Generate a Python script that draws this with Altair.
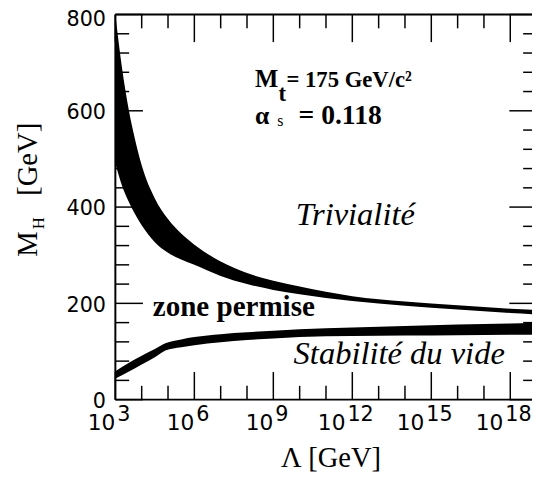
import altair as alt
import pandas as pd

# ---------------- data ----------------
# Triviality band (log10 Lambda, M_H lower / upper edge)
TRIV_LOG = [3, 3.25, 3.5, 3.75, 4, 4.5, 5, 5.5, 6, 7, 8, 9, 10, 12, 14, 16, 18, 19]
TRIV_HI = [800, 690, 605, 540, 487, 418, 375, 345, 322, 287, 263, 247, 235, 215, 204, 196, 189, 186]
TRIV_LO = [490, 445, 412, 385, 362, 327, 305, 291, 280, 257, 240, 228, 219, 205, 195, 187, 180, 177]

# Vacuum stability band
STAB_LOG = [3, 3.5, 4, 4.5, 4.9, 5.5, 6, 7, 8, 9, 10, 12, 14, 16, 18, 19]
STAB_LO = [44, 58, 73, 88, 102, 109, 113, 119, 124, 127, 130, 132, 133, 134, 135, 135]
STAB_HI = [59, 76, 91, 105, 117, 125, 130, 136, 140, 143, 146, 150, 153, 156, 158, 160]

Y_MAJOR = [0, 200, 400, 600, 800]
Y_MINOR = [40, 80, 120, 160, 240, 280, 320, 360, 440, 480, 520, 560, 640, 680, 720, 760]
X_MAJOR = [3, 6, 9, 12, 15, 18]
X_MINOR = [4, 5, 7, 8, 10, 11, 13, 14, 16, 17]
X_EXP = ["3", "6", "9", "12", "15", "18"]

# bold annotations: text, x (log10 Lambda), y (M_H), font size
ANN_TEXT = ["M", "t", "= 175 GeV/c²", "α", "= 0.118", "zone permise"]
ANN_X = [8.3, 9.2, 9.5, 8.3, 9.96, 4.42]
ANN_Y = [649, 621, 649, 573, 573, 174]
ANN_SIZE = [25, 23, 23, 26, 28, 29.5]

SUB_TEXT = ["s"]
SUB_X = [9.15]
SUB_Y = [568]
SUB_SIZE = [16]

ITAL_TEXT = ["Trivialité", "Stabilité du vide"]
ITAL_X = [9.85, 9.77]
ITAL_Y = [362, 74]
ITAL_SIZE = [33, 33]

SERIF = "Liberation Serif"
SANS = "DejaVu Sans"

W, H = 423, 391
XDOM = [3, 3 + W / 26.73]
YDOM = [0, 800]
MAJ, MIN = 28, 14

xs = alt.Scale(domain=XDOM, nice=False, zero=False)
ys = alt.Scale(domain=YDOM, nice=False, zero=False)

triv = pd.DataFrame({"x": TRIV_LOG, "lo": TRIV_LO, "hi": TRIV_HI})
stab = pd.DataFrame({"x": STAB_LOG, "lo": STAB_LO, "hi": STAB_HI})

band_t = alt.Chart(triv).mark_area(color="black", interpolate="monotone", clip=True).encode(
    x=alt.X("x:Q", scale=xs, axis=alt.Axis(labels=False, ticks=False, domain=False, grid=False, title=None)),
    y=alt.Y("lo:Q", scale=ys, axis=alt.Axis(
        values=Y_MAJOR, ticks=False, domain=False, grid=False, title=None,
        labelFont=SANS, labelFontSize=21, labelColor="black", labelPadding=10,
        labelOffset={"condition": {"test": "datum.value == 800", "value": 5}, "value": 2})),
    y2="hi:Q",
)
band_s = alt.Chart(stab).mark_area(color="black", interpolate="monotone", clip=True).encode(
    x=alt.X("x:Q", scale=xs), y=alt.Y("lo:Q", scale=ys), y2="hi:Q"
)

ymaj = pd.DataFrame({"v": Y_MAJOR})
ymin = pd.DataFrame({"v": Y_MINOR})
xmaj = pd.DataFrame({"v": X_MAJOR, "e": X_EXP})
xmin = pd.DataFrame({"v": X_MINOR})

def yticks(df, length):
    left = alt.Chart(df).mark_rule(color="black", strokeWidth=1.5).encode(
        y=alt.Y("v:Q", scale=ys), x=alt.value(0), x2=alt.value(length))
    right = alt.Chart(df).mark_rule(color="black", strokeWidth=1.5).encode(
        y=alt.Y("v:Q", scale=ys), x=alt.value(W - length + 5), x2=alt.value(W))
    return [left, right]

def xticks(df, length):
    top = alt.Chart(df).mark_rule(color="black", strokeWidth=1.5).encode(
        x=alt.X("v:Q", scale=xs), y=alt.value(0), y2=alt.value(length))
    bot = alt.Chart(df).mark_rule(color="black", strokeWidth=1.5).encode(
        x=alt.X("v:Q", scale=xs), y=alt.value(H - length), y2=alt.value(H))
    return [top, bot]

frame_df = pd.DataFrame({"a": [0]})
frame = [
    alt.Chart(frame_df).mark_rule(color="black", strokeWidth=2).encode(x=alt.value(0), y=alt.value(0), y2=alt.value(H)),
    alt.Chart(frame_df).mark_rule(color="black", strokeWidth=2).encode(x=alt.value(0), x2=alt.value(W), y=alt.value(0)),
    alt.Chart(frame_df).mark_rule(color="black", strokeWidth=2).encode(x=alt.value(0), x2=alt.value(W), y=alt.value(H)),
]

xlab_single = xmaj[xmaj["e"].str.len() == 1]
xlab_double = xmaj[xmaj["e"].str.len() == 2]
xlabels = []
for d, off in [(xlab_single, 0), (xlab_double, -7)]:
    xlabels.append(alt.Chart(d).mark_text(align="right", baseline="alphabetic", font=SANS,
                                          fontSize=22, color="black", dx=off).encode(
        x=alt.X("v:Q", scale=xs), y=alt.value(H + 31), text=alt.value("10")))
    xlabels.append(alt.Chart(d).mark_text(align="left", baseline="alphabetic", font=SANS,
                                          fontSize=21, color="black", dx=off + 2).encode(
        x=alt.X("v:Q", scale=xs), y=alt.value(H + 22), text="e:N"))

ann = pd.DataFrame({"t": ANN_TEXT, "x": ANN_X, "y": ANN_Y, "s": ANN_SIZE})
sub = pd.DataFrame({"t": SUB_TEXT, "x": SUB_X, "y": SUB_Y, "s": SUB_SIZE})
ital = pd.DataFrame({"t": ITAL_TEXT, "x": ITAL_X, "y": ITAL_Y, "s": ITAL_SIZE})

ann_l = alt.Chart(ann).mark_text(align="left", baseline="alphabetic", font=SERIF,
                                 fontWeight="bold", color="black").encode(
    x=alt.X("x:Q", scale=xs), y=alt.Y("y:Q", scale=ys), text="t:N", size=alt.Size("s:Q", scale=None))
sub_l = alt.Chart(sub).mark_text(align="left", baseline="alphabetic", font=SERIF,
                                 color="black").encode(
    x=alt.X("x:Q", scale=xs), y=alt.Y("y:Q", scale=ys), text="t:N", size=alt.Size("s:Q", scale=None))
ital_l = alt.Chart(ital).mark_text(align="left", baseline="alphabetic", font=SERIF,
                                   fontStyle="italic", color="black").encode(
    x=alt.X("x:Q", scale=xs), y=alt.Y("y:Q", scale=ys), text="t:N", size=alt.Size("s:Q", scale=None))

# axis titles
ttl = pd.DataFrame({"a": [0]})
ytitle = [
    alt.Chart(ttl).mark_text(align="left", baseline="alphabetic", angle=270, font=SERIF,
                             fontSize=29, color="black").encode(
        x=alt.value(-80), y=alt.value(246), text=alt.value("M")),
    alt.Chart(ttl).mark_text(align="left", baseline="alphabetic", angle=270, font=SERIF,
                             fontSize=17, color="black").encode(
        x=alt.value(-72), y=alt.value(218), text=alt.value("H")),
    alt.Chart(ttl).mark_text(align="left", baseline="alphabetic", angle=270, font=SERIF,
                             fontSize=29, color="black").encode(
        x=alt.value(-80), y=alt.value(184), text=alt.value("[GeV]")),
]
xtitle = alt.Chart(ttl).mark_text(align="center", baseline="alphabetic", font=SERIF,
                                  fontSize=29, color="black").encode(
    x=alt.value(219), y=alt.value(H + 68), text=alt.value("Λ [GeV]"))

layers = [band_t, band_s] + yticks(ymaj, MAJ) + yticks(ymin, MIN) + xticks(xmaj, MAJ) + xticks(xmin, MIN) \
    + frame + xlabels + [ann_l, sub_l, ital_l] + ytitle + [xtitle]

chart = alt.layer(*layers).properties(
    width=W, height=H,
    background="white",
    autosize=alt.AutoSizeParams(type="none"),
    padding={"left": 109, "top": 3, "right": 0, "bottom": 80},
).configure_view(stroke=None)

chart.save("out.html", embed_options={"renderer": "svg", "actions": False})
